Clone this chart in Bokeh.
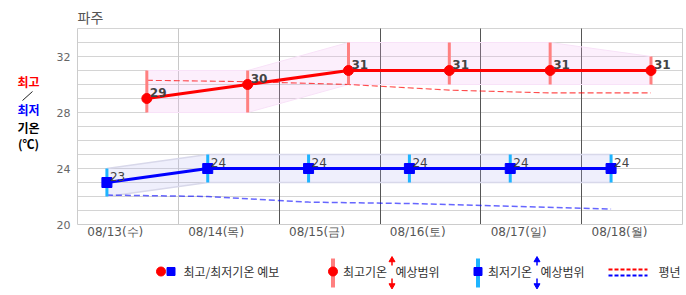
from bokeh.plotting import figure
from bokeh.models import Range1d, FixedTicker, Grid, Label, Arrow
from bokeh.layouts import column
from bokeh.embed import file_html
from bokeh.resources import INLINE
from bokeh.core.properties import value

# ---------------- data ----------------
station = "파주"
dates = ["08/13(수)", "08/14(목)", "08/15(금)", "08/16(토)", "08/17(일)", "08/18(월)"]
tmax = [29, 30, 31, 31, 31, 31]
tmax_lo = [28, 28, 30, 30, 30, 30]
tmax_hi = [31, 31, 33, 33, 33, 32]
tmin = [23, 24, 24, 24, 24, 24]
tmin_lo = [22, 23, 23, 23, 23, 23]
tmin_hi = [24, 25, 25, 25, 25, 25]
tmax_normal = [30.3, 30.2, 30.0, 29.6, 29.4, 29.4]
tmin_normal = [22.1, 22.0, 21.6, 21.5, 21.3, 21.1]
y_ticks = [20, 24, 28, 32]
legend_texts = ["최고/최저기온 예보", "최고기온", "예상범위", "최저기온", "예상범위", "평년"]

MIN_HOUR = 7.0
MAX_HOUR = 16.5
LABEL_HOUR = 9.0
n = len(dates)
x_min = [i * 24 + MIN_HOUR for i in range(n)]
x_max = [i * 24 + MAX_HOUR for i in range(n)]
x_lab = [i * 24 + LABEL_HOUR for i in range(n)]

X0, X1 = 0, n * 24      # plotted hour span
Y0, Y1 = 20, 34         # plotted temperature span

KFONT = "Noto Sans CJK KR"
NFONT = "DejaVu Sans"

# page geometry of the plotting area (the figure frame covers the whole canvas)
W, H = 686, 250
PL, PR, PT, PB = 77, 682, 28, 224
xs = (PR - PL) / (X1 - X0)
ys = (PB - PT) / (Y1 - Y0)
xr = Range1d(X0 - PL / xs, X1 + (W - PR) / xs)
yr = Range1d(Y0 - (H - PB) / ys, Y1 + PT / ys)

p = figure(width=W, height=H, x_range=xr, y_range=yr, title=None,
           output_backend="svg", toolbar_location=None, min_border=0,
           min_border_left=0, min_border_right=0, min_border_top=0, min_border_bottom=0)
p.outline_line_color = None

# grids limited to the plotting area
HAS_CROSS = "cross_bounds" in Grid.properties()
h_ticks = list(range(Y0 + 1, Y1 + 1))
grid_specs = [(1, h_ticks, "#d4d4d4"), (0, [24, X1], "#c8c8c8"), (0, [48, 72, 96, 120], "#555555")]
p.xgrid.visible = False
p.ygrid.visible = False
for dim, ticks, col in grid_specs:
    if HAS_CROSS:
        g = Grid(dimension=dim, ticker=FixedTicker(ticks=ticks), grid_line_color=col,
                 cross_bounds=(X0, X1) if dim == 1 else (Y0, Y1))
        p.add_layout(g)
    else:
        if dim == 1:
            p.segment(x0=[X0] * len(ticks), y0=ticks, x1=[X1] * len(ticks), y1=ticks,
                      line_color=col, line_width=1)
        else:
            p.segment(x0=ticks, y0=[Y0] * len(ticks), x1=ticks, y1=[Y1] * len(ticks),
                      line_color=col, line_width=1)

# axes fixed at the plotting-area edges
p.yaxis.fixed_location = X0
p.yaxis.bounds = (Y0, Y1)
p.yaxis.ticker = FixedTicker(ticks=y_ticks)
p.yaxis.axis_line_color = "#cccccc"
p.yaxis.major_tick_line_color = None
p.yaxis.minor_tick_line_color = None
p.yaxis.major_tick_out = 0
p.yaxis.major_tick_in = 0
p.yaxis.minor_tick_out = 0
p.yaxis.major_label_standoff = 7
p.yaxis.major_label_text_font = NFONT
p.yaxis.major_label_text_font_size = "11px"
p.yaxis.major_label_text_color = "#666666"

p.xaxis.fixed_location = Y0
p.xaxis.bounds = (X0, X1)
p.xaxis.ticker = FixedTicker(ticks=x_lab)
p.xaxis.major_label_overrides = {float(t): d for t, d in zip(x_lab, dates)}
p.xaxis.axis_line_color = "#cccccc"
p.xaxis.major_tick_line_color = None
p.xaxis.minor_tick_line_color = None
p.xaxis.major_tick_out = 0
p.xaxis.major_tick_in = 0
p.xaxis.minor_tick_out = 0
p.xaxis.major_label_standoff = 0
p.xaxis.major_label_text_font = NFONT
p.xaxis.major_label_text_font_size = "12px"
p.xaxis.major_label_text_color = "#555555"

# forecast-range bands
p.varea(x=x_max, y1=tmax_lo, y2=tmax_hi, fill_color="#f0b8f0", fill_alpha=0.22)
p.line(x_max, tmax_hi, line_color="#f8e2f8", line_width=1)
p.line(x_max, tmax_lo, line_color="#f8e2f8", line_width=1)
p.varea(x=x_min, y1=tmin_lo, y2=tmin_hi, fill_color="#b8b8f0", fill_alpha=0.22)
p.line(x_min, tmin_hi, line_color="#d8d8ea", line_width=1.5)
p.line(x_min, tmin_lo, line_color="#d8d8ea", line_width=1.5)

# normals
p.line(x_max, tmax_normal, line_color="red", line_alpha=0.7, line_width=1.1, line_dash="6 3")
p.line(x_min, tmin_normal, line_color="blue", line_alpha=0.6, line_width=1.5, line_dash="6 3")

# range bars
p.segment(x0=x_max, y0=tmax_lo, x1=x_max, y1=tmax_hi, line_color="#ff8080", line_width=3)
p.segment(x0=x_min, y0=tmin_lo, x1=x_min, y1=tmin_hi, line_color="#1eb4ff", line_width=3)

# forecasts
p.line(x_max, tmax, line_color="red", line_width=3)
p.scatter(x_max, tmax, marker="circle", size=10, fill_color="red", line_color="red")
p.line(x_min, tmin, line_color="blue", line_width=3)
p.scatter(x_min, tmin, marker="square", size=10, fill_color="blue", line_color="blue")

p.text(x=x_max, y=tmax, text=[str(v) for v in tmax], x_offset=3, y_offset=-2,
       text_baseline="bottom", text_font=value(NFONT), text_font_size="12px",
       text_font_style="bold", text_color="#444444")
p.text(x=x_min, y=tmin, text=[str(v) for v in tmin], x_offset=3, y_offset=-2,
       text_baseline="bottom", text_font=value(NFONT), text_font_size="12px",
       text_color="#444444")

# title and left label (screen units: x from left, y from bottom of the canvas-wide frame)
p.add_layout(Label(x=PL, y=H - 16.5, x_units="screen", y_units="screen", text=station,
                   text_baseline="middle", text_align="left", text_font=KFONT,
                   text_font_size="14px", text_color="#555555"))
for txt, py, col in [("최고", 81, "red"), ("최저", 109, "blue"), ("기온", 127, "black"), ("(℃)", 143, "black")]:
    p.add_layout(Label(x=28, y=H - py, x_units="screen", y_units="screen", text=txt,
                       text_baseline="middle", text_align="center", text_font=KFONT,
                       text_font_size="12px", text_font_style="bold", text_color=col))
p.add_layout(Arrow(x_start=22, y_start=H - 100, x_end=32, y_end=H - 91,
                   start_units="screen", end_units="screen", start=None, end=None,
                   line_color="#222222", line_width=1))

# ---------------- legend strip ----------------
lg = figure(width=W, height=45, x_range=Range1d(0, W), y_range=Range1d(295, 250),
            output_backend="svg", toolbar_location=None, min_border=0,
            min_border_left=0, min_border_right=0, min_border_top=0, min_border_bottom=0,
            x_axis_location=None, y_axis_location=None)
lg.grid.visible = False
lg.outline_line_color = None

LY = 271
lg.scatter([160.5], [LY], marker="circle", size=9, color="red")
lg.scatter([170.5], [LY], marker="square", size=8, color="blue")
lg.segment([332.5], [258], [332.5], [287], line_color="#ff8080", line_width=4)
lg.scatter([332.5], [LY], marker="circle", size=9, color="red")
lg.segment([477.5], [258], [477.5], [287], line_color="#1eb4ff", line_width=4)
lg.scatter([477.5], [LY], marker="square", size=8, color="blue")
for ax, col in [(391.5, "red"), (536.5, "blue")]:
    lg.segment([ax, ax], [259, 278], [ax, ax], [265, 285], line_color=col, line_width=1.5)
    lg.scatter([ax], [259.5], marker="triangle", size=6, color=col)
    lg.scatter([ax], [285], marker="inverted_triangle", size=6, color=col)
lg.segment([608], [269], [647], [269], line_color="red", line_width=2, line_dash="4 2")
lg.segment([608], [275], [647], [275], line_color="blue", line_width=2, line_dash="4 2")

lx = [183, 342.5, 395, 487.5, 540, 658]
lg.text(x=lx, y=[LY] * len(lx), text=legend_texts, text_baseline="middle",
        text_font=value(KFONT), text_font_size="12px", text_color="#333333")

layout = column(p, lg, spacing=0)
open("out.html", "w").write(file_html(layout, INLINE))
